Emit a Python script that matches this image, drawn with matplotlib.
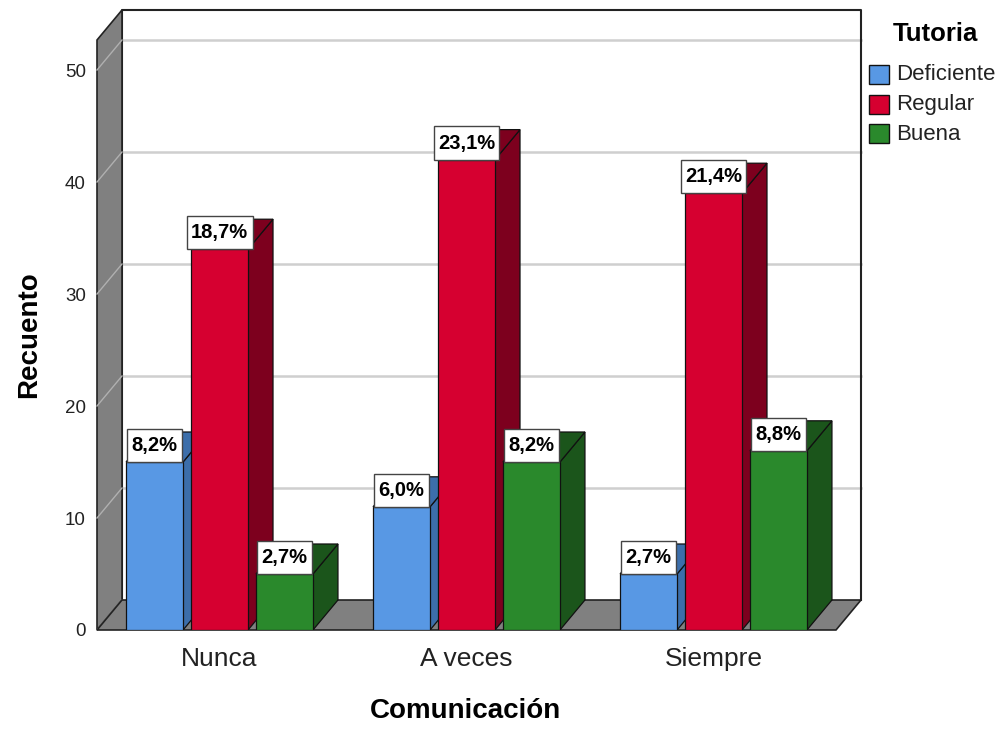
import numpy as np
import matplotlib.pyplot as plt
from matplotlib.patches import Polygon, Rectangle

plt.rcParams['font.family'] = ['Liberation Sans', 'DejaVu Sans']

# data (counts, labels are % of total N=182)
categories = ['Nunca', 'A veces', 'Siempre']
series = ['Deficiente', 'Regular', 'Buena']
deficiente = [15, 11, 5]
regular = [34, 42, 39]
buena = [5, 15, 16]
deficiente_pct = ['8,2%', '6,0%', '2,7%']
regular_pct = ['18,7%', '23,1%', '21,4%']
buena_pct = ['2,7%', '8,2%', '8,8%']
yticks = [0, 10, 20, 30, 40, 50]

values = [deficiente, regular, buena]
labels = [deficiente_pct, regular_pct, buena_pct]
front_colors = ['#5898e4', '#d60030', '#2a892c']
side_colors = ['#3c6eaa', '#7d001e', '#1b551b']

W, H = 1003, 729
fig = plt.figure(figsize=(W / 100, H / 100), dpi=100)
ax = fig.add_axes([97 / W, 99 / H, 739 / W, 590 / H])
x0, x1 = -0.496, 2.496
y0, y1 = 0, 52.68
ax.set_xlim(x0, x1)
ax.set_ylim(y0, y1)
for s in ax.spines.values():
    s.set_visible(False)

# depth of the fake 3D box, in data units
ddx = 25 / 247
ddy = 30 / 11.2
bar_w = 0.2308
offsets = [-0.263, 0.0, 0.263]
grid_c = '#cfcfcf'
wall_c = '#808080'

# back wall
ax.add_patch(Polygon([(x0 + ddx, y0 + ddy), (x0 + ddx, y1 + ddy), (x1 + ddx, y1 + ddy), (x1 + ddx, y0 + ddy)],
                     closed=True, fc='white', ec='none', clip_on=False, zorder=0.5))
for v in yticks[1:]:
    ax.plot([x0 + ddx, x1 + ddx], [v + ddy, v + ddy], color=grid_c, lw=1.8, clip_on=False, zorder=0.6)
ax.plot([x0 + ddx, x0 + ddx, x1 + ddx, x1 + ddx], [y0 + ddy, y1 + ddy, y1 + ddy, y0 + ddy],
        color='#222222', lw=1.5, clip_on=False, zorder=0.7)

# left wall and floor
ax.add_patch(Polygon([(x0, y0), (x0, y1), (x0 + ddx, y1 + ddy), (x0 + ddx, y0 + ddy)],
                     closed=True, fc=wall_c, ec='#222222', lw=1.2, clip_on=False, zorder=1))
for v in yticks:
    ax.plot([x0, x0 + ddx], [v, v + ddy], color='#b0b0b0', lw=1.0, clip_on=False, zorder=1.1)
ax.add_patch(Polygon([(x0, y0), (x1, y0), (x1 + ddx, y0 + ddy), (x0 + ddx, y0 + ddy)],
                     closed=True, fc=wall_c, ec='#222222', lw=1.2, clip_on=False, zorder=1.2))

# bars, drawn left to right so each front hides the previous side face
fs = 14.5
pad, asp = 0.22, 1.6
k = 0
for ci in range(len(categories)):
    for si in range(len(series)):
        v = values[si][ci]
        xc = ci + offsets[si]
        xl, xr = xc - bar_w / 2, xc + bar_w / 2
        z = 3 + 0.01 * k
        k += 1
        ax.add_patch(Polygon([(xr, 0), (xr + ddx, ddy), (xr + ddx, v + ddy), (xr, v)],
                             closed=True, fc=side_colors[si], ec='#111111', lw=0.9, zorder=z))
        ax.add_patch(Polygon([(xl, v), (xr, v), (xr + ddx, v + ddy), (xl + ddx, v + ddy)],
                             closed=True, fc=side_colors[si], ec='#111111', lw=0.9, zorder=z))
        b = ax.bar(xc, v, width=bar_w, color=front_colors[si], edgecolor='#111111', lw=0.9)
        b[0].set_zorder(z + 0.005)
        ax.annotate(labels[si][ci], (xc, v), xytext=(0, pad * asp * fs), textcoords='offset points',
                    ha='center', va='bottom', fontsize=fs, fontweight='bold', zorder=10,
                    bbox=dict(boxstyle='square,pad=%s' % pad, mutation_aspect=asp,
                              fc='white', ec='#444444', lw=1.0))

# axes text
ax.set_yticks(yticks)
ax.set_xticks(range(len(categories)), categories)
ax.tick_params(axis='y', length=0, pad=8, labelsize=13.5, labelcolor='#222222')
ax.tick_params(axis='x', length=0, pad=12, labelsize=19, labelcolor='#222222')
ax.set_ylabel('Recuento', fontsize=20, fontweight='bold')
ax.yaxis.set_label_coords((42 - 97) / 739, (630 - 335) / 590)
ax.set_xlabel('Comunicación', fontsize=20, fontweight='bold')
ax.xaxis.set_label_coords((466 - 97) / 739, (630 - 698) / 590)

# legend
fig.text(935 / W, 1 - 34 / H, 'Tutoria', fontsize=18.5, fontweight='bold', ha='center', va='center')
for i, name in enumerate(series):
    yt = 65 + 29.5 * i
    fig.patches.append(Rectangle((869 / W, 1 - (yt + 19) / H), 20 / W, 19 / H, transform=fig.transFigure,
                                 fc=front_colors[i], ec='#111111', lw=1.0))
    fig.text(896 / W, 1 - (yt + 10) / H, name, fontsize=16, ha='left', va='center', color='#222222')

fig.savefig('out.png', dpi=100, facecolor='white')
